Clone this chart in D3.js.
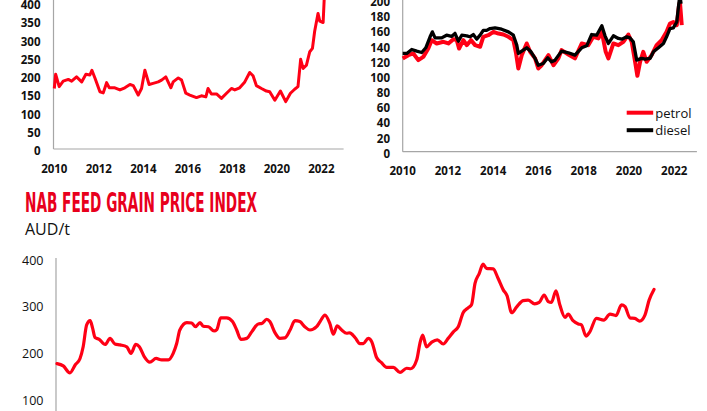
<!DOCTYPE html>
<html><head><meta charset="utf-8">
<script src="https://cdn.jsdelivr.net/npm/d3@7"></script>
<style>body{margin:0;background:#fff}svg{display:block}</style>
</head><body>
<svg id="c" width="707" height="411"></svg>
<script>
// ---- data ----
const yearTicks = [2010, 2012, 2014, 2016, 2018, 2020, 2022];
const leftTicks = [0, 50, 100, 150, 200, 250, 300, 350, 400];
const rightTicks = [0, 20, 40, 60, 80, 100, 120, 140, 160, 180, 200];
const grainTicks = [100, 200, 300, 400];

const leftYears = [2010.0,2010.06,2010.22,2010.4,2010.63,2010.78,2011.0,2011.23,2011.42,2011.6,2011.69,2011.83,2012.05,2012.2,2012.35,2012.47,2012.72,2012.95,2013.17,2013.4,2013.55,2013.77,2013.92,2014.07,2014.26,2014.44,2014.67,2014.82,2015.01,2015.24,2015.34,2015.57,2015.72,2015.91,2016.09,2016.39,2016.61,2016.81,2016.91,2017.06,2017.29,2017.51,2017.74,2017.96,2018.11,2018.33,2018.56,2018.78,2018.93,2019.08,2019.31,2019.53,2019.68,2019.91,2020.16,2020.4,2020.61,2020.8,2020.95,2021.07,2021.18,2021.33,2021.48,2021.6,2021.7,2021.85,2021.93,2022.08,2022.15];
const leftValues = [166,205,171,186,191,186,198,184,205,203,216,194,157,154,182,168,168,162,168,177,174,148,166,216,177,180,184,189,198,168,184,195,189,153,148,141,146,143,166,151,151,139,153,166,162,168,184,210,201,174,166,159,157,134,159,130,153,164,171,246,221,230,267,276,323,372,351,347,440];

const dieselYears = [2010.0,2010.18,2010.4,2010.62,2010.84,2011.02,2011.21,2011.31,2011.43,2011.72,2011.94,2012.16,2012.31,2012.46,2012.61,2012.83,2012.97,2013.12,2013.27,2013.42,2013.56,2013.71,2013.86,2014.08,2014.37,2014.67,2014.89,2015.04,2015.11,2015.26,2015.48,2015.67,2015.85,2015.99,2016.21,2016.41,2016.58,2016.73,2017.02,2017.32,2017.61,2017.91,2018.13,2018.35,2018.57,2018.8,2018.94,2019.09,2019.31,2019.53,2019.68,2019.9,2020.04,2020.19,2020.34,2020.56,2020.71,2020.93,2021.08,2021.3,2021.52,2021.66,2021.81,2021.96,2022.11,2022.21,2022.25,2022.3];
const dieselValues = [129.5,129.5,134.8,132.6,130.8,137,151.5,158,150,150,153.6,152,156,145.7,153.6,152.8,151.5,154.5,148.4,153.6,160,160,162.4,163.3,161.5,158,153.6,140.5,129.5,132.6,137,131.7,123,114,116.3,123.8,118.5,120.7,132.6,130.4,127.3,137,139.6,154.5,153.6,166,152.8,142.7,152.8,149.3,148.4,151.5,150,144.9,120.7,123,122,123,131.7,137,142.7,151.5,162.4,163.3,171,197.5,206,195];

const petrolYears = [2010.0,2010.25,2010.47,2010.69,2010.91,2011.13,2011.28,2011.5,2011.8,2012.02,2012.24,2012.39,2012.49,2012.68,2012.83,2013.02,2013.2,2013.42,2013.56,2013.78,2014.01,2014.23,2014.45,2014.67,2014.89,2015.01,2015.11,2015.26,2015.48,2015.63,2015.85,2015.99,2016.14,2016.44,2016.66,2016.88,2017.02,2017.32,2017.61,2017.91,2018.2,2018.42,2018.65,2018.8,2018.97,2019.09,2019.31,2019.53,2019.75,2019.97,2020.12,2020.27,2020.37,2020.49,2020.63,2020.78,2021.0,2021.22,2021.44,2021.66,2021.81,2021.96,2022.11,2022.21,2022.25,2022.33];
const petrolValues = [123,127.3,129.5,120.7,125,136,147,142.7,144.9,142.7,148.4,147,136,147,140.5,147,140.5,138.3,151.5,153.6,158,155.8,154.5,151.5,147,129.5,109.7,127.3,142.7,131.7,123,109.7,114,127.3,114,123,133.9,128.2,123,142.7,140.5,151.5,149.3,158,131.7,123,142.7,140.5,144.9,154.5,144.9,118.5,100,118.5,131.7,118.5,127.3,140.5,147,158,169,171,166.8,193,197.5,166.8];

const grainMonths = [0,1.8,3.7,5.2,6.6,7.5,8.5,9.5,10.2,10.9,12.1,13.8,15.2,16.6,18.1,20,21.2,22.6,23.6,25,26.6,28.4,30,31.9,33.3,34.3,35.2,37.2,38.6,39.7,41,41.9,43.4,45,45.8,46.9,48.6,50.3,51.5,52.7,54.4,55.8,57.7,58.7,60.1,61,62.5,63.9,65.3,66.8,68.2,69.6,71,72.5,74.4,75.4,76.8,78.2,79.2,80.3,81.6,83,83.9,85.4,86.8,87.8,89.2,90.2,91.6,93,94.5,96.4,98.3,100.2,101.4,103.1,104,104.8,105.9,107.4,109,110.7,112.1,113.6,115,116.4,117.9,118.8,119.8,121,122.1,123.1,125,126.4,127.9,129,130.3,131.7,133.6,135,136.9,138.2,139.6,140.8,141.7,143,144.1,145.6,146.5,147.9,149.4,150.3,151.6,152.7,154.6,156.7,158.5,160.2,161.8,162.8,164.2,165.6,167,168.5,169.7,171.1];
const grainValues = [178,173,158,175,189,214,261,270,254,234,230,219,232,220,218,214,200,219,214,193,181,189,186,186,200,221,250,266,265,257,266,258,257,248,251,276,276,268,250,230,232,246,263,264,273,268,244,232,233,250,270,268,257,250,257,268,282,264,241,259,250,243,244,234,221,221,232,225,191,180,170,170,159,168,167,186,221,239,214,224,229,220,232,246,257,287,298,304,350,371,391,382,381,361,336,323,287,299,313,314,306,309,325,311,309,334,304,277,284,270,263,261,237,246,275,271,284,281,304,300,276,275,269,282,314,337];

const legendLabels = ["petrol", "diesel"];
const titleText = "NAB FEED GRAIN PRICE INDEX";
const unitText = "AUD/t";

// ---- drawing ----
const svg = d3.select("#c");
const RED = "#ff0015";
const AXIS = "#a6a6a6";
const tickFont = "'Open Sans', 'DejaVu Sans', sans-serif";

function zip(xs, ys){ return xs.map((x,i)=>[x, ys[i]]); }

function panel(opts){
  const g = svg.append("g");
  const x = d3.scaleLinear().domain([2010, 2023]).range([opts.x0, opts.x1]);
  const y = d3.scaleLinear().domain([0, opts.ymax]).range([opts.yb, opts.yt]);
  // axis lines
  g.append("line").attr("x1", opts.ax).attr("x2", opts.ax).attr("y1", 0).attr("y2", opts.yb)
    .attr("stroke", AXIS).attr("stroke-width", 1.2);
  g.append("line").attr("x1", opts.ax).attr("x2", opts.x1).attr("y1", opts.yb).attr("y2", opts.yb)
    .attr("stroke", AXIS).attr("stroke-width", 1.2);
  // y tick labels
  g.selectAll(".yl").data(opts.yticks).join("text")
    .attr("x", opts.lx).attr("y", d => y(d) + 1.5)
    .attr("text-anchor", "end").attr("dominant-baseline", "central")
    .attr("font-family", tickFont).attr("font-weight", 700).attr("font-size", 11.5)
    .attr("fill", "#111").text(d => d);
  // x tick labels
  g.selectAll(".xl").data(yearTicks).join("text")
    .attr("x", d => x(d)).attr("y", opts.xly)
    .attr("text-anchor", "middle").attr("dominant-baseline", "central")
    .attr("font-family", tickFont).attr("font-weight", 700).attr("font-size", 11.5)
    .attr("fill", "#111").text(d => d);
  return {g, x, y};
}

// top-left
const A = panel({x0:54.3, x1:343.6, ax:53.5, yb:149, yt:3.2, ymax:400, yticks:leftTicks, lx:40.5, xly:168});
const lineA = d3.line().x(d=>A.x(d[0])).y(d=>A.y(d[1])).curve(d3.curveLinear);
A.g.append("path").datum(zip(leftYears, leftValues)).attr("d", lineA)
  .attr("fill","none").attr("stroke",RED).attr("stroke-width",3).attr("stroke-linejoin","round");

// top-right
const B = panel({x0:402.7, x1:696.9, ax:402.7, yb:151.7, yt:0, ymax:200, yticks:rightTicks, lx:390, xly:170});
const lineB = d3.line().x(d=>B.x(d[0])).y(d=>B.y(d[1])).curve(d3.curveLinear);
B.g.append("path").datum(zip(petrolYears, petrolValues)).attr("d", lineB)
  .attr("fill","none").attr("stroke",RED).attr("stroke-width",4).attr("stroke-linejoin","round");
B.g.append("path").datum(zip(dieselYears, dieselValues)).attr("d", lineB)
  .attr("fill","none").attr("stroke","#000").attr("stroke-width",3.3).attr("stroke-linejoin","round");
// legend
const leg = B.g.selectAll(".lg").data(legendLabels).join("g")
  .attr("transform", (d,i)=>`translate(626.7,${112.7 + i*17.5})`);
leg.append("line").attr("x1",0).attr("x2",26.5).attr("y1",0).attr("y2",0)
  .attr("stroke",(d,i)=> i===0 ? RED : "#000").attr("stroke-width",4);
leg.append("text").attr("x",28.5).attr("y",0).attr("dominant-baseline","central")
  .attr("font-family","'Open Sans', 'DejaVu Sans', sans-serif").attr("font-size",13).attr("fill","#111")
  .text(d=>d);

// bottom
svg.append("text").attr("x",25).attr("y",211.5).attr("fill","#e8001c")
  .attr("font-family","'Liberation Sans Narrow','DejaVu Sans Condensed','Liberation Sans',sans-serif")
  .attr("font-weight",700).attr("font-size",27)
  .attr("textLength",232).attr("lengthAdjust","spacingAndGlyphs").text(titleText);
svg.append("text").attr("x",25).attr("y",235).attr("fill","#111")
  .attr("font-family","'Open Sans','Liberation Sans',sans-serif").attr("font-size",16).text(unitText);

const xg = d3.scaleLinear().domain([0, 171.1]).range([57, 654]);
const yg = d3.scaleLinear().domain([100, 400]).range([400, 260]);
svg.append("line").attr("x1",56).attr("x2",56).attr("y1",258).attr("y2",411)
  .attr("stroke",AXIS).attr("stroke-width",1.2);
svg.selectAll(".gl").data(grainTicks).join("text")
  .attr("x",43.5).attr("y",d=>yg(d)).attr("text-anchor","end").attr("dominant-baseline","central")
  .attr("font-family","'Open Sans','Liberation Sans',sans-serif").attr("font-size",12.5).attr("fill","#111")
  .text(d=>d);
const lineG = d3.line().x(d=>xg(d[0])).y(d=>yg(d[1])).curve(d3.curveMonotoneX);
svg.append("path").datum(zip(grainMonths, grainValues)).attr("d", lineG)
  .attr("fill","none").attr("stroke",RED).attr("stroke-width",3.2).attr("stroke-linejoin","round").attr("stroke-linecap","round");
</script>
</body></html>
